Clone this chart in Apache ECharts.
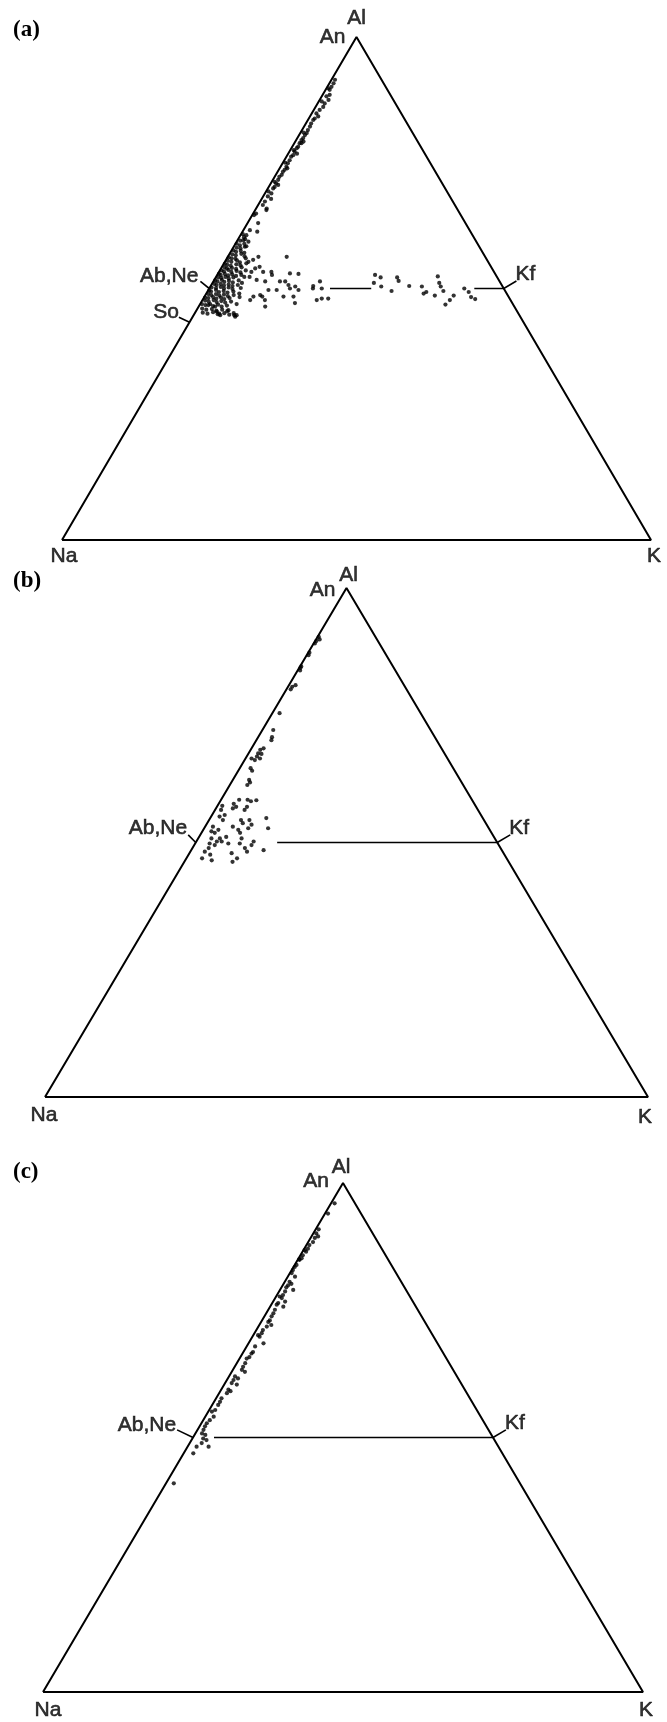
<!DOCTYPE html>
<html>
<head>
<meta charset="utf-8">
<title>Na-K-Al</title>
<script src="https://cdn.jsdelivr.net/npm/echarts@6/dist/echarts.min.js"></script>
<style>
html, body { margin: 0; padding: 0; background: #fff; }
#main { width: 667px; height: 1722px; }
</style>
</head>
<body>
<div id="main"></div>
<script>
// all compositions are [K, Al] in atom %, Na = 100 - K - Al

// (a) band of points along the Na-Al side
var bandA = [
    [0.6,91.5],[0.7,90.8],[0.7,90.1],[0.7,89.5],[0.3,89.8],[1.2,88.5],[0.8,88.2],[1.5,87.5],
    [1.2,86.8],[0.5,87.2],[1.3,86.1],[1.0,85.5],[0.8,84.8],[1.4,84.2],[1.0,83.8],[0.9,83.5],
    [0.9,82.8],[1.0,82.2],[1.0,81.5],[1.1,80.9],[1.0,80.5],[1.0,79.9],[0.9,79.5],[0.9,78.9],
    [1.0,78.2],[1.2,78.9],[0.9,77.9],[0.9,77.2],[1.0,76.5],[0.8,76.2],[0.9,75.5],[0.9,74.9],
    [1.0,74.2],[1.0,73.6],[0.9,73.2],[1.0,72.6],[0.8,72.2],[0.9,71.6],[0.9,70.9],[1.0,70.2],
    [0.9,69.9],[1.1,68.9],[0.8,68.3],[0.8,67.3],[0.8,66.6],[1.9,65.6],[0.5,64.9],[0.3,64.6],
    [0.5,81.0],[1.4,79.2],[0.6,77.5],[1.5,76.8],[0.4,75.0],[1.3,73.9],[0.5,71.2],[1.4,70.6],
    [0.4,69.3],[1.6,67.8],[1.8,65.9],[1.8,63.0],[2.5,61.3],[1.1,61.6],[1.0,60.6],[2.0,59.3],
    [1.0,59.6],[1.9,58.3]
];

// (a) dense cluster round Ab,Ne
var clusterA = [
    [0.3,60.8],[0.8,60.2],[0.5,59.5],[1.2,59.8],[0.2,58.9],[0.9,58.6],[1.5,58.9],[0.6,58.1],
    [1.3,58.0],[2.1,58.4],[0.3,57.6],[0.9,57.3],[1.6,57.5],[2.4,57.1],[0.5,56.8],[1.2,56.6],
    [2.0,56.9],[2.8,56.4],[0.2,56.2],[0.8,56.0],[1.5,55.9],[3.2,56.0],[0.4,55.5],[1.1,55.3],
    [1.9,55.6],[2.6,55.2],[0.2,54.9],[0.7,54.7],[1.4,54.5],[2.2,54.8],[3.0,54.6],[3.8,55.0],
    [0.5,54.2],[1.0,54.0],[1.8,54.1],[2.6,53.9],[3.4,54.2],[0.3,53.6],[0.8,53.4],[1.4,53.7],
    [2.1,53.3],[2.9,53.5],[3.7,53.2],[4.4,53.6],[0.2,52.9],[0.6,52.7],[1.2,52.9],[1.9,52.6],
    [2.5,52.8],[3.3,52.5],[4.1,52.7],[0.4,52.2],[1.0,52.1],[1.6,52.3],[2.3,52.0],[3.0,52.2],
    [4.8,52.3],[0.2,51.6],[0.7,51.4],[1.3,51.7],[1.9,51.3],[2.6,51.5],[3.4,51.2],[4.2,51.6],
    [5.0,51.1],[0.4,50.9],[0.9,50.7],[1.5,50.9],[2.2,50.6],[2.9,50.8],[3.7,50.5],[4.5,50.7],
    [0.3,50.2],[1.1,50.1],[1.8,50.3],[2.5,50.0],[3.2,50.2],[4.0,49.9],[5.3,50.1],[0.2,49.6],
    [0.6,49.4],[1.3,49.7],[2.0,49.3],[2.7,49.5],[3.5,49.2],[4.4,49.4],[5.6,49.0],[0.4,48.9],
    [1.0,48.7],[1.7,48.9],[2.4,48.6],[3.1,48.8],[3.9,48.5],[4.8,48.7],[0.2,48.2],[0.8,48.1],
    [1.5,48.3],[2.2,48.0],[2.9,48.2],[3.6,47.9],[4.4,48.1],[6.0,48.3],[0.5,47.6],[1.2,47.4],
    [1.9,47.7],[2.6,47.3],[3.3,47.5],[4.1,47.2],[5.0,47.4],[0.3,46.9],[1.0,46.7],[1.7,46.9],
    [2.4,46.5],[3.1,46.8],[3.9,46.4],[4.7,46.6],[6.2,46.9],[0.8,46.0],[1.6,45.8],[2.5,45.9],
    [3.4,45.6],[4.3,45.8],[5.3,45.5],[1.3,45.2],[2.2,45.0],[3.0,45.3],[4.0,44.9],[5.0,45.1],
    [6.0,44.8],[1.5,46.7],[2.8,46.4],[3.6,45.4],[4.5,44.7],[5.4,45.7],[6.6,45.1],[7.2,44.4],
    [7.3,44.7],[4.2,45.0],[6.9,44.7]
];

// (a) scattered points towards Kf
var scatterA = [
    [5.2,56.3],[4.6,55.7],[4.0,55.3],[6.4,54.3],[5.8,54.0],[5.5,53.3],[5.7,52.3],[7.2,51.7],
    [7.5,53.3],[8.8,51.4],[8.9,53.3],[9.3,52.7],[10.0,56.3],[12.2,53.0],[13.7,52.9],[11.3,51.4],
    [12.2,51.4],[13.1,50.7],[14.4,50.4],[15.3,49.7],[13.7,50.0],[11.6,49.7],[10.2,49.7],[13.4,48.4],
    [9.3,48.7],[9.8,48.4],[8.3,48.4],[8.1,47.7],[10.6,47.7],[15.1,48.4],[16.0,47.1],[17.4,50.5],
    [18.1,51.4],[19.1,50.0],[17.6,50.0],[19.4,47.7],[20.1,48.0],[21.2,48.0],[11.3,46.4],
    [26.8,52.7],[28.0,52.2],[27.4,51.1],[29.0,50.4],[31.2,49.5],[30.8,52.2],[31.4,51.5],[33.7,50.5],
    [35.9,50.4],[36.9,49.0],[37.2,49.3],[39.0,48.6],[37.6,52.4],[38.5,51.1],[39.1,50.4],[40.0,49.5],
    [41.7,46.8],[42.0,47.7],[42.2,48.6],[43.3,50.0],[44.4,49.3],[45.3,48.3],[46.2,47.9]
];

// (b)
var pointsB = [
    [0.2,90.4],[0.2,89.6],[0.6,89.9],[0.2,89.1],[0.3,86.8],[0.2,87.3],[0.2,84.6],[0.4,83.8],
    [0.2,84.3],[1.1,80.9],[0.7,80.6],[0.7,80.1],[1.2,75.4],[1.8,72.1],[2.3,70.7],[2.5,70.1],
    [2.0,68.5],[1.6,68.2],[1.6,67.5],[1.7,66.9],[2.4,66.5],[1.7,66.2],[1.0,66.5],[2.2,67.4],
    [1.8,64.6],[2.3,64.1],[2.7,62.3],[2.9,61.3],[3.1,61.8],[3.0,58.4],[2.5,57.6],[2.8,56.7],
    [3.2,57.0],[4.4,58.4],[5.1,58.1],[5.9,58.3],[5.0,57.0],[4.9,56.4],[0.8,57.2],[1.0,56.4],
    [2.1,55.4],[1.4,55.1],[2.3,54.4],[5.3,54.4],[5.9,53.8],[6.7,54.4],[7.5,53.5],[4.6,53.1],
    [5.8,52.5],[6.4,51.9],[7.3,52.8],[9.3,54.8],[10.6,52.8],[1.3,53.1],[1.5,52.2],[2.2,51.9],
    [2.5,52.5],[3.6,50.8],[3.4,50.2],[2.2,50.8],[2.4,49.8],[3.4,49.5],[4.2,50.2],[2.7,48.9],
    [2.4,48.2],[4.5,51.1],[5.5,49.8],[7.2,50.8],[7.4,49.8],[9.5,50.2],[9.5,49.5],[12.0,48.5],
    [8.7,48.9],[9.4,48.2],[7.0,47.9],[8.4,46.9],[2.6,46.9],[3.6,47.6],[8.0,46.2],[4.4,46.5]
];

// (c)
var pointsC = [
    [0.6,96.0],[0.5,94.0],[0.5,90.9],[0.5,90.1],[1.1,89.5],[0.7,89.2],[0.8,88.4],[0.5,87.8],
    [0.6,87.1],[0.6,86.5],[0.2,86.8],[0.4,85.8],[0.5,85.2],[0.3,84.9],[0.2,85.0],[0.3,83.9],
    [0.2,83.5],[0.2,82.9],[0.3,82.3],[1.2,81.6],[0.8,80.6],[0.9,79.9],[1.3,80.2],[0.8,79.5],
    [2.2,79.0],[1.0,78.7],[1.0,78.0],[1.1,77.4],[0.6,77.7],[2.0,76.7],[1.0,76.4],[0.9,76.1],
    [2.2,75.7],[1.1,75.1],[1.2,74.4],[1.2,73.8],[1.3,73.0],[1.2,72.7],[2.0,72.1],[1.4,71.8],
    [1.1,71.1],[1.2,70.5],[1.2,69.8],[0.8,70.1],[2.5,68.5],[1.4,67.9],[1.6,66.8],[1.5,66.5],
    [1.5,65.8],[1.2,65.5],[1.4,64.6],[1.4,63.9],[1.5,63.3],[2.2,62.9],[1.0,62.0],[1.1,61.3],
    [1.1,60.7],[1.7,61.6],[2.1,60.4],[1.2,59.4],[1.3,58.7],[1.7,59.1],[0.9,57.7],[1.0,57.0],
    [1.0,56.4],[1.0,55.4],[0.6,55.1],[1.4,54.1],[1.1,53.4],[0.9,52.8],[0.9,52.2],[1.0,51.5],
    [1.1,50.8],[1.8,50.5],[1.8,49.8],[2.5,49.5],[3.5,48.2],[2.0,48.9],[1.5,48.2],[1.6,46.9],
    [1.3,41.0]
];

// Ab,Ne - Kf tie line pieces
var tiesA = [[[20.5,50],[27.5,50]], [[45,50],[50,50]]];
var tiesB = [[[13.5,50],[50,50]]];
var tiesC = [[[3.5,50],[50,50]]];

var corners = [[0,0],[100,0],[0,100],[0,0]]; // Na, K, Al

(function () {

    'use strict'

    var labelFont = {
        fontFamily: 'Liberation Sans', fontSize: 21, color: '#000',
        textBorderColor: '#000', textBorderWidth: 0.6
    }

    var page = {

        init: function () {
            var self = this
            var chart = echarts.init(document.getElementById('main'))
            chart.setOption(self.buildOption())
        },

        // ternary [K, Al] -> plane, base Na-K along x, Al up
        tern: function (p) {
            return [p[0] + p[1] / 2, p[1]]
        },

        panels: function () {
            return [
                {
                    grid: { left: 62, top: 37, width: 589, height: 503 },
                    points: bandA.concat(clusterA, scatterA),
                    ties: tiesA,
                    tag: '(a)', tagY: 31,
                    ticks: [[[0,50],[-2.2,51.4]], [[0,43.3],[-2.3,44.3]], [[50,50],[51.4,51.5]]],
                    labels: [
                        { t: 'Al', at: [0,100], off: [0,-19] },
                        { t: 'An', at: [0,100], off: [-11,0], align: 'right' },
                        { t: 'Na', at: [0,0], off: [2,16] },
                        { t: 'K', at: [100,0], off: [3,16] },
                        { t: 'Ab,Ne', at: [-2.2,51.4], off: [-2,-5], align: 'right' },
                        { t: 'So', at: [-2.3,44.3], off: [0,-5], align: 'right' },
                        { t: 'Kf', at: [51.4,51.5], off: [-1,-7], align: 'left' }
                    ]
                },
                {
                    grid: { left: 45, top: 588, width: 603, height: 509 },
                    points: pointsB,
                    ties: tiesB,
                    tag: '(b)', tagY: 582,
                    ticks: [[[0,50],[-2.0,51.5]], [[50,50],[51.4,51.5]]],
                    labels: [
                        { t: 'Al', at: [0,100], off: [2,-13] },
                        { t: 'An', at: [0,100], off: [-11,2], align: 'right' },
                        { t: 'Na', at: [0,0], off: [-1,18] },
                        { t: 'K', at: [100,0], off: [-3,20] },
                        { t: 'Ab,Ne', at: [-2.0,51.5], off: [-1,-7], align: 'right' },
                        { t: 'Kf', at: [51.4,51.5], off: [-1,-7], align: 'left' }
                    ]
                },
                {
                    grid: { left: 43, top: 1183, width: 600, height: 509 },
                    points: pointsC,
                    ties: tiesC,
                    tag: '(c)', tagY: 1173,
                    ticks: [[[0,50],[-3.4,51.5]], [[50,50],[51.4,51.5]]],
                    labels: [
                        { t: 'Al', at: [0,100], off: [-2,-16] },
                        { t: 'An', at: [0,100], off: [-14,-2], align: 'right' },
                        { t: 'Na', at: [0,0], off: [5,18] },
                        { t: 'K', at: [100,0], off: [3,18] },
                        { t: 'Ab,Ne', at: [-3.4,51.5], off: [-1,-5], align: 'right' },
                        { t: 'Kf', at: [51.4,51.5], off: [-1,-7], align: 'left' }
                    ]
                }
            ]
        },

        lineSeries: function (i, pts, width) {
            var self = this
            return {
                type: 'line', xAxisIndex: i, yAxisIndex: i,
                data: pts.map(function (p) { return self.tern(p) }),
                symbol: 'none', silent: true, clip: false, animation: false,
                lineStyle: { color: '#000', width: width }
            }
        },

        buildOption: function () {
            var self = this
            var grids = [], xAxes = [], yAxes = [], series = [], graphics = []

            self.panels().forEach(function (pn, i) {
                grids.push(pn.grid)
                xAxes.push({ gridIndex: i, type: 'value', min: 0, max: 100, show: false })
                yAxes.push({ gridIndex: i, type: 'value', min: 0, max: 100, show: false })

                series.push(self.lineSeries(i, corners, 2))
                pn.ties.forEach(function (t) { series.push(self.lineSeries(i, t, 1.6)) })
                pn.ticks.forEach(function (t) { series.push(self.lineSeries(i, t, 1.6)) })

                series.push({
                    type: 'scatter', xAxisIndex: i, yAxisIndex: i,
                    data: pn.points.map(function (p) { return self.tern(p) }),
                    symbol: 'circle', symbolSize: 4.2, silent: true, animation: false,
                    itemStyle: { color: '#000' }
                })

                series.push({
                    type: 'scatter', xAxisIndex: i, yAxisIndex: i,
                    symbolSize: 0, silent: true, clip: false, animation: false,
                    data: pn.labels.map(function (l) {
                        return {
                            value: self.tern(l.at),
                            label: extend({
                                show: true, position: 'inside', formatter: l.t,
                                align: l.align || 'center', verticalAlign: 'middle',
                                offset: l.off
                            }, labelFont)
                        }
                    })
                })

                graphics.push({
                    type: 'text', left: 13, top: pn.tagY - 12,
                    style: { text: pn.tag, font: 'bold 23px "Liberation Serif"', fill: '#000' }
                })
            })

            return {
                backgroundColor: '#fff',
                animation: false,
                grid: grids,
                xAxis: xAxes,
                yAxis: yAxes,
                series: series,
                graphic: graphics
            }
        }
    }

    function extend(a, b) {
        for (var k in b) a[k] = b[k]
        return a
    }

    page.init()
})()
</script>
</body>
</html>
